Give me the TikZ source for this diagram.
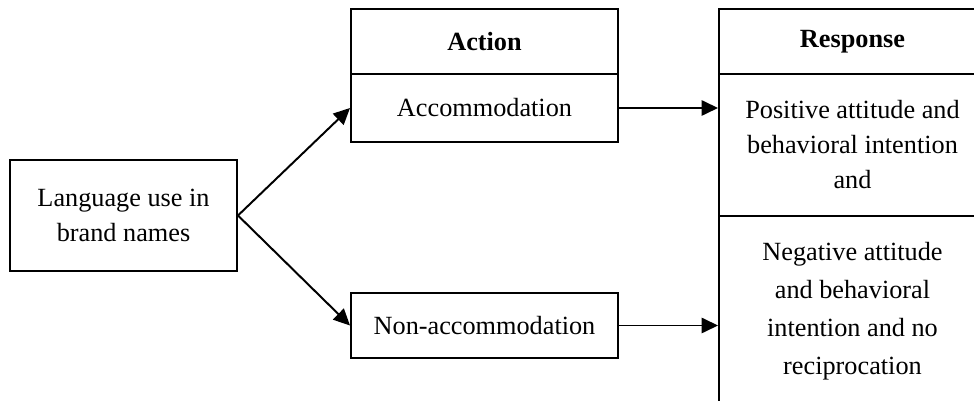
\documentclass[tikz,border=0pt]{standalone}
\usepackage{fontspec}
\setmainfont{Liberation Serif}
\usetikzlibrary{arrows.meta}
\newcommand\pxu{0.457pt}
\begin{document}
\begin{tikzpicture}[x=0.457pt,y=-0.457pt,line width=0.9pt,
    box/.style={draw,rectangle,inner sep=0pt,align=center,minimum width=267*\pxu,
      font=\fontsize{12}{16}\selectfont},
    link/.style={-{Triangle[length=7.5pt,width=7pt]}}]
  \useasboundingbox (0,0) rectangle (974,401);
  \clip (0,0) rectangle (974,401);

  % source
  \node[box,minimum width=227*\pxu,minimum height=111*\pxu] (lang) at (123.5,215.5) {Language use in\\brand names};

  % action column
  \node[box,minimum height=65*\pxu] (action) at (484.5,41.5) {\textbf{Action}};
  \node[box,minimum height=68*\pxu] (accom) at (484.5,108) {Accommodation};
  \node[box,minimum height=65*\pxu] (nonaccom) at (484.5,325.5) {Non-accommodation};

  % response column
  \node[box,minimum height=65*\pxu] (response) at (852.5,41.5) {\textbf{Response}};
  \node[box,minimum height=142*\pxu] (positive) at (852.5,145) {Positive attitude and\\behavioral intention\\and};
  \node[box,minimum height=190*\pxu,font=\fontsize{12}{17.4}\selectfont] (negative) at (852.5,311) {Negative attitude\\and behavioral\\intention and no\\reciprocation};

  \draw[link] (lang.east) -- (accom.west);
  \draw[link] (lang.east) -- (nonaccom.west);
  \draw[link] (accom.east) -- (accom.east -| positive.west);
  \draw[link] (nonaccom.east) -- (nonaccom.east -| negative.west);
\end{tikzpicture}
\end{document}
